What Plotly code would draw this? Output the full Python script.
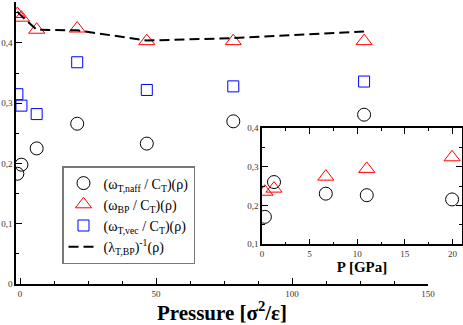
import plotly.graph_objects as go

# main panel data (reduced units)
pressure = [-1.0, 0.5, 6.1, 21.0, 46.6, 78.4, 126.5]
w_naff = [0.183, 0.198, 0.225, 0.266, 0.233, 0.270, 0.281]
w_bp = [0.448, 0.442, 0.422, 0.424, 0.403, 0.403, 0.403]
w_vec = [0.315, 0.296, 0.282, 0.368, 0.322, 0.328, 0.336]
lam_inv = [0.452, 0.445, 0.422, 0.421, 0.404, 0.408, 0.419]

# inset data (GPa)
p_gpa = [0.3, 1.26, 6.7, 11.0, 19.96]
inset_naff = [0.171, 0.261, 0.231, 0.227, 0.216]
inset_bp = [0.236, 0.244, 0.275, 0.295, 0.325]

SERIF = "Liberation Serif, Times New Roman, DejaVu Serif, serif"
W, H = 463, 325
ml, mr, mt, mb = 16, 1, 2, 41
pw, ph = W - ml - mr, H - mt - mb


def px_x(x):
    return (x - ml) / pw


def px_y(y):
    return (H - mb - y) / ph


fig = go.Figure()

fig.add_trace(go.Scatter(
    x=pressure, y=w_naff, mode="markers",
    name="(ω<sub>T,naff</sub> / C<sub>T</sub>)(ρ)",
    marker=dict(symbol="circle-open", size=13, color="black", line=dict(width=1)),
))
fig.add_trace(go.Scatter(
    x=pressure, y=w_bp, mode="markers",
    name="(ω<sub>BP</sub> / C<sub>T</sub>)(ρ)",
    marker=dict(symbol="triangle-up-open", size=14, color="red", line=dict(width=1)),
))
fig.add_trace(go.Scatter(
    x=pressure, y=w_vec, mode="markers",
    name="(ω<sub>T,vec</sub> / C<sub>T</sub>)(ρ)",
    marker=dict(symbol="square-open", size=11, color="blue", line=dict(width=1)),
))
fig.add_trace(go.Scatter(
    x=pressure, y=lam_inv, mode="lines",
    name="(λ<sub>T,BP</sub>)<sup>-1</sup>(ρ)",
    line=dict(color="black", width=2, dash="10px,5px"),
))

# inset
fig.add_trace(go.Scatter(
    x=p_gpa, y=inset_naff, mode="markers", xaxis="x2", yaxis="y2", showlegend=False,
    marker=dict(symbol="circle-open", size=13, color="black", line=dict(width=1)),
))
fig.add_trace(go.Scatter(
    x=p_gpa, y=inset_bp, mode="markers", xaxis="x2", yaxis="y2", showlegend=False,
    marker=dict(symbol="triangle-up-open", size=14, color="red", line=dict(width=1)),
))

tickfont = dict(family=SERIF, size=9, color="#333")
common = dict(showgrid=False, zeroline=False, showline=True, linecolor="black", linewidth=1.5,
              ticks="inside", ticklen=6, tickcolor="black", tickfont=tickfont, automargin=False)

fig.update_layout(
    width=W, height=H,
    margin=dict(l=ml, r=mr, t=mt, b=mb),
    paper_bgcolor="white", plot_bgcolor="white",
    separators=",.",
    font=dict(family=SERIF, color="black"),
    xaxis=dict(domain=[0, px_x(428)], range=[-1.5, 150], dtick=50, tick0=0,
               minor=dict(dtick=12.5, ticks="inside", ticklen=3, tickcolor="black"),
               title=dict(text="<b>Pressure [σ<sup>2</sup>/ε]</b>", font=dict(family=SERIF, size=21), standoff=6),
               **common),
    yaxis=dict(domain=[0, 1], range=[0, 0.468], dtick=0.1, tick0=0,
               minor=dict(dtick=0.05, ticks="inside", ticklen=3, tickcolor="black"),
               **common),
    xaxis2=dict(domain=[px_x(262), 1], range=[0, 21], dtick=5, anchor="y2", mirror="allticks",
                minor=dict(dtick=2.5, ticks="inside", ticklen=3, tickcolor="black"),
                title=dict(text="<b>P [GPa]</b>", font=dict(family=SERIF, size=15), standoff=4),
                **common),
    yaxis2=dict(domain=[px_y(244.3), px_y(128.3)], range=[0.1, 0.4], dtick=0.1, anchor="x2",
                mirror="allticks",
                minor=dict(dtick=0.05, ticks="inside", ticklen=3, tickcolor="black"),
                **common),
    legend=dict(x=px_x(62), y=px_y(166), xanchor="left", yanchor="top",
                bgcolor="white", bordercolor="#777", borderwidth=1.5, itemwidth=30,
                font=dict(family=SERIF, size=14), tracegroupgap=0),
    showlegend=True,
)

# drop the default 8px body margin so the figure sits at the page origin
fig.write_html("out.html", config={"displayModeBar": False},
               post_script="document.body.style.margin='0';")
